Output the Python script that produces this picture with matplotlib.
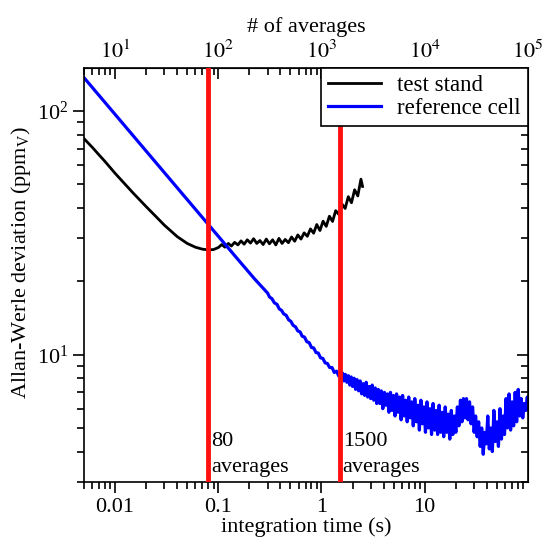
import numpy as np
import matplotlib
matplotlib.use("Agg")
import matplotlib.pyplot as plt
from matplotlib.ticker import LogLocator, FixedLocator, NullFormatter, FixedFormatter

# integration time is given as number of averages (1 ms each)
ms_per_avg = 1000.0

# test stand: number of averages and Allan-Werle deviation (ppmV)
test_avgs = [5, 6, 7, 8, 10, 12, 15, 20, 25, 30, 40, 50, 60, 70, 80, 90,
             100, 108, 116, 125, 134, 144, 155, 166, 178, 191, 205, 220, 236,
             253, 272, 292, 313, 336, 361, 387, 415, 445, 478, 513, 550, 590,
             633, 679, 729, 782, 839, 900, 966, 1036, 1112, 1193, 1280, 1373,
             1473, 1580, 1695, 1819, 1952, 2094, 2247, 2411, 2500]
test_dev = [77, 71, 66, 62, 55.5, 51, 46, 40.5, 36.8, 34, 30.5, 28.6, 27.6, 27.1, 26.9, 27.0,
            27.5, 28.3, 27.6, 28.6, 27.9, 28.9, 28.2, 29.3, 28.4, 29.6, 28.7, 29.9, 28.6,
            29.4, 28.3, 29.8, 28.5, 29.6, 28.2, 30.0, 28.6, 29.7, 28.8, 30.4, 29.2, 31.0,
            29.8, 31.6, 30.6, 32.8, 31.5, 34.2, 32.3, 35.3, 33.6, 37.0, 35.2, 39.0,
            37.6, 41.5, 39.8, 44.5, 42.0, 47.5, 44.8, 52.5, 49.0]

# reference cell
ref_avgs = [5, 7, 10, 14, 20, 28, 40, 56, 80, 113, 160, 226,
            300, 315, 330, 350, 370, 390, 410, 430, 455, 480, 505, 530, 560, 590,
            620, 650, 685, 720, 760, 800, 840, 885, 930, 980, 1030, 1085, 1140,
            1200, 1265, 1330, 1400, 1475, 1550,
            1600, 1650, 1700, 1760, 1820, 1880, 1940, 2000, 2070, 2140, 2210, 2290,
            2370, 2450, 2530, 2620, 2710, 2800, 2900, 3000, 3100, 3210, 3320, 3430,
            3550, 3670, 3800, 3930, 4070, 4210, 4350, 4500, 4660, 4820, 4990, 5160,
            5340, 5520, 5710, 5910, 6110, 6320, 6540, 6770, 7000, 7240, 7490, 7750,
            8020, 8300, 8580, 8880, 9190, 9500, 9830, 10170, 10520, 10880, 11260,
            11650, 12050, 12470, 12900, 13340, 13800, 14280, 14770, 15280, 15810,
            16350, 16920, 17500, 18100, 18730, 19370, 20040, 20730, 21450, 22190,
            22950, 23740, 24560, 25410, 26290, 27190, 28130, 29100, 30110, 31150,
            32220, 33330, 34480, 35670, 36900, 38170, 39490, 40850, 42260, 43720,
            45230, 46790, 48400, 50070, 51800, 53590, 55440, 57350, 59330, 61380,
            63500, 65690, 67960, 70300, 72730, 75240, 77840, 80520, 83300, 86180,
            89150, 92230, 95410, 98700, 100000]
ref_dev = [137, 115.8, 96.9, 81.9, 68.5, 57.9, 48.4, 40.9, 34.2, 28.8, 24.2, 20.4,
           17.9, 17.2, 17.0, 16.3, 16.1, 15.4, 15.2, 14.7, 14.5, 13.9, 13.7, 13.2, 13.0, 12.5,
           12.4, 11.9, 11.8, 11.3, 11.2, 10.7, 10.65, 10.2, 10.15, 9.7, 9.65, 9.25, 9.2,
           8.85, 8.85, 8.45, 8.55, 8.15, 8.3,
           8.4, 7.8, 8.3, 7.7, 8.2, 7.5, 8.1, 7.4, 8.0, 7.2, 7.9, 7.1,
           7.8, 6.9, 7.6, 6.8, 7.7, 6.7, 7.4, 6.6, 7.5, 6.5, 7.3, 6.3,
           7.2, 6.3, 7.1, 6.0, 7.0, 6.2, 6.9, 5.8, 7.0, 5.9, 6.8, 5.6,
           6.9, 5.8, 6.7, 5.4, 6.8, 5.6, 6.5, 5.3, 6.7, 5.5, 6.4, 5.1,
           6.6, 5.3, 6.2, 4.9, 6.5, 5.2, 6.1, 4.8, 6.4, 5.0, 6.0,
           4.7, 6.3, 4.9, 5.9, 4.7, 6.2, 4.8, 5.8, 4.6, 6.1,
           4.8, 5.7, 4.5, 5.9, 4.7, 5.6, 4.8, 6.1, 5.1, 6.5,
           5.3, 6.6, 5.5, 6.6, 5.4, 6.4, 5.2, 6.1, 4.8, 5.6,
           4.6, 5.3, 4.2, 5.0, 3.9, 4.8, 4.3, 5.6, 4.1, 5.0,
           4.0, 5.9, 4.4, 5.3, 4.2, 6.0, 4.5, 5.6, 4.7, 6.6,
           5.0, 6.9, 4.9, 6.4, 5.1, 7.0, 5.3, 7.2, 5.6, 6.6,
           5.5, 6.3, 5.9, 6.7, 6.0]

# marked averaging windows
mark_avgs = [80, 1500]

test_t = np.array(test_avgs) / ms_per_avg
ref_t = np.array(ref_avgs) / ms_per_avg

plt.rcParams["font.family"] = ["Liberation Serif", "DejaVu Serif"]
plt.rcParams["mathtext.fontset"] = "stix"
fs = 16

fig = plt.figure(figsize=(5.42, 5.49), dpi=100)
ax = fig.add_axes([0.155, 0.122, 0.819, 0.754])

ax.plot(test_t, test_dev, color="black", linewidth=2, label="test stand")
ax.plot(ref_t, ref_dev, color="blue", linewidth=2.3, label="reference cell")

for n in mark_avgs:
    ax.axvline(n / ms_per_avg, color="#ff1010", linewidth=3.5, zorder=4)
    trans = ax.get_xaxis_transform()
    ax.text(n / ms_per_avg * 1.07, 0.097, str(n), transform=trans,
            ha="left", va="center", fontsize=fs)
    ax.text(n / ms_per_avg * 1.07, 0.034, "averages", transform=trans,
            ha="left", va="center", fontsize=fs)

ax.set_xscale("log")
ax.set_yscale("log")
ax.set_xlim(0.005, 100)
ax.set_ylim(3, 150)

ax.xaxis.set_major_locator(FixedLocator([0.01, 0.1, 1, 10]))
ax.xaxis.set_major_formatter(FixedFormatter(["0.01", "0.1", "1", "10"]))
ax.xaxis.set_minor_locator(LogLocator(base=10, subs=np.arange(2, 10), numticks=20))
ax.xaxis.set_minor_formatter(NullFormatter())
ax.yaxis.set_minor_locator(LogLocator(base=10, subs=np.arange(2, 10), numticks=20))
ax.yaxis.set_minor_formatter(NullFormatter())

ax.tick_params(which="both", direction="out", labelsize=fs, width=1.2)
ax.tick_params(which="major", length=8)
ax.tick_params(which="minor", length=5)
for s in ax.spines.values():
    s.set_linewidth(1.2)

ax.set_xlabel("integration time (s)", fontsize=fs, labelpad=0)
ax.set_ylabel("Allan-Werle deviation (ppm$_\\mathregular{V}$)", fontsize=fs, labelpad=2)
ax.yaxis.set_label_coords(-0.115, 0.53)

# top axis: number of averages
top = ax.secondary_xaxis("top", functions=(lambda t: t * ms_per_avg, lambda n: n / ms_per_avg))
top.xaxis.set_major_locator(FixedLocator([1e1, 1e2, 1e3, 1e4, 1e5]))
top.xaxis.set_major_formatter(FixedFormatter(["$10^1$", "$10^2$", "$10^3$", "$10^4$", "$10^5$"]))
top.xaxis.set_minor_locator(LogLocator(base=10, subs=np.arange(2, 10), numticks=20))
top.xaxis.set_minor_formatter(NullFormatter())
top.tick_params(which="both", direction="in", labelsize=fs, width=1.2, pad=4)
top.tick_params(which="major", length=8)
top.tick_params(which="minor", length=5)
top.set_xlabel("# of averages", fontsize=fs, labelpad=6)

# right axis: ticks only, pointing in
right = ax.secondary_yaxis("right")
right.yaxis.set_minor_locator(LogLocator(base=10, subs=np.arange(2, 10), numticks=20))
right.yaxis.set_major_formatter(NullFormatter())
right.yaxis.set_minor_formatter(NullFormatter())
right.tick_params(which="both", direction="in", width=1.2)
right.tick_params(which="major", length=8)
right.tick_params(which="minor", length=5)

leg = fig.legend(loc="upper right", bbox_to_anchor=(0.974, 0.876), fontsize=16.5,
                 frameon=True, fancybox=False, edgecolor="black", framealpha=1,
                 handlelength=2.3, borderpad=0.32, labelspacing=0.05, handletextpad=0.7,
                 borderaxespad=0)
leg.get_frame().set_linewidth(1.2)

fig.savefig("out.png", dpi=100)
